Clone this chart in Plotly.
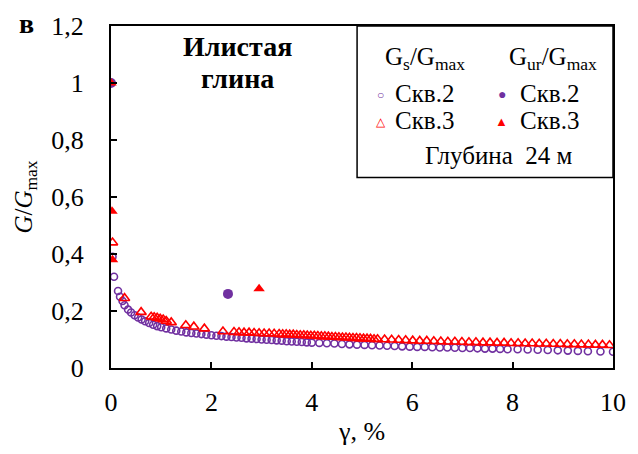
import plotly.graph_objects as go

# ---- data ----
s2_gs_x = [0, 0.03, 0.06, 0.14, 0.18, 0.23, 0.27, 0.34, 0.40, 0.47,
           0.54, 0.61, 0.68, 0.76, 0.84, 0.92, 1.0, 1.1, 1.2, 1.3,
           1.4, 1.5, 1.6, 1.7, 1.8, 1.9, 2.0, 2.1, 2.2, 2.3,
           2.4, 2.5, 2.6, 2.7, 2.8, 2.9, 3.0, 3.1, 3.2, 3.3,
           3.4, 3.5, 3.6, 3.7, 3.8, 3.9, 4.0, 4.15, 4.3, 4.45,
           4.6, 4.75, 4.9, 5.05, 5.2, 5.35, 5.5, 5.65, 5.8, 5.95,
           6.1, 6.25, 6.4, 6.55, 6.7, 6.85, 7.0, 7.15, 7.3, 7.45,
           7.6, 7.75, 7.9, 8.1, 8.3, 8.5, 8.7, 8.9, 9.1, 9.3,
           9.5, 9.75, 10.0]
s2_gs_y = [1.0, 0.39, 0.32, 0.27, 0.25, 0.235, 0.22, 0.205, 0.195, 0.185,
           0.177, 0.17, 0.164, 0.158, 0.152, 0.147, 0.143, 0.139, 0.135, 0.131,
           0.128, 0.125, 0.123, 0.121, 0.119, 0.117, 0.115, 0.113, 0.112, 0.11,
           0.109, 0.107, 0.106, 0.104, 0.103, 0.102, 0.1, 0.099, 0.098, 0.097,
           0.096, 0.094, 0.093, 0.092, 0.091, 0.09, 0.089, 0.088, 0.087, 0.086,
           0.084, 0.083, 0.082, 0.081, 0.08, 0.079, 0.078, 0.077, 0.076, 0.075,
           0.074, 0.074, 0.073, 0.072, 0.072, 0.071, 0.07, 0.07, 0.069, 0.068,
           0.068, 0.067, 0.066, 0.066, 0.065, 0.064, 0.063, 0.062, 0.061, 0.06,
           0.059, 0.058, 0.057]

s3_gs_x = [0.03, 0.27, 0.6, 0.8, 0.86, 0.92, 0.98, 1.04, 1.1, 1.2, 1.49, 1.65, 1.86, 2.23,
           2.45, 2.55, 2.65, 2.75, 2.85, 2.95, 3.05, 3.15, 3.25, 3.35,
           3.42, 3.49, 3.56, 3.63, 3.70, 3.77, 3.84, 3.91, 3.98, 4.05,
           4.12, 4.19, 4.26, 4.33, 4.40, 4.47, 4.54, 4.61, 4.68, 4.75,
           4.82, 4.89, 4.96, 5.03, 5.10, 5.17, 5.24, 5.31,
           5.45, 5.59, 5.73, 5.87, 6.01, 6.15, 6.29, 6.43, 6.57, 6.71,
           6.85, 6.99, 7.13, 7.27, 7.41, 7.55, 7.69, 7.83, 7.97, 8.11,
           8.25, 8.39, 8.53, 8.67, 8.81, 8.95, 9.09, 9.23, 9.37, 9.51,
           9.65, 9.79, 9.93]
s3_gs_y = [0.44, 0.245, 0.196, 0.18, 0.178, 0.176, 0.173, 0.17, 0.165, 0.16, 0.15, 0.145, 0.138, 0.128,
           0.126, 0.125, 0.124, 0.124, 0.123, 0.122, 0.121, 0.121, 0.12, 0.119,
           0.118, 0.118, 0.117, 0.117, 0.116, 0.115, 0.115, 0.114, 0.113, 0.113,
           0.112, 0.111, 0.111, 0.11, 0.109, 0.109, 0.108, 0.107, 0.107, 0.106,
           0.105, 0.105, 0.104, 0.103, 0.103, 0.102, 0.101, 0.101,
           0.1, 0.099, 0.098, 0.097, 0.096, 0.095, 0.095, 0.094, 0.093, 0.092,
           0.092, 0.091, 0.09, 0.09, 0.089, 0.089, 0.088, 0.088, 0.087, 0.087,
           0.086, 0.086, 0.085, 0.085, 0.084, 0.084, 0.083, 0.083, 0.082, 0.082,
           0.081, 0.081, 0.08]

s2_gur_x = [0, 2.33]
s2_gur_y = [1.0, 0.26]
s3_gur_x = [0, 0.02, 0.03, 2.95]
s3_gur_y = [1.0, 0.55, 0.38, 0.278]

y_tick_vals = [0, 0.2, 0.4, 0.6, 0.8, 1.0, 1.2]
y_tick_text = ["0", "0,2", "0,4", "0,6", "0,8", "1", "1,2"]
x_tick_vals = [0, 2, 4, 6, 8, 10]

PURPLE = "#7030A0"
RED = "#FF0000"
FONT = "Liberation Serif, Times New Roman, serif"

fig = go.Figure()
fig.add_trace(go.Scatter(x=s2_gs_x, y=s2_gs_y, mode="markers",
                         marker=dict(symbol="circle-open", size=7, color=PURPLE,
                                     line=dict(width=1.6, color=PURPLE))))
fig.add_trace(go.Scatter(x=s3_gs_x, y=s3_gs_y, mode="markers",
                         marker=dict(symbol="triangle-up-open", size=9, color=RED,
                                     line=dict(width=1.6, color=RED))))
fig.add_trace(go.Scatter(x=s2_gur_x, y=s2_gur_y, mode="markers",
                         marker=dict(symbol="circle", size=10, color=PURPLE)))
fig.add_trace(go.Scatter(x=s3_gur_x, y=s3_gur_y, mode="markers",
                         marker=dict(symbol="triangle-up", size=10, color=RED)))

axis_common = dict(showline=True, linecolor="black", linewidth=2, mirror=True,
                   ticks="inside", ticklen=6, tickwidth=2, tickcolor="black",
                   showgrid=False, zeroline=False,
                   tickfont=dict(family=FONT, size=26, color="black"))

fig.update_layout(
    width=638, height=454,
    margin=dict(l=111, r=17, t=25, b=86),
    plot_bgcolor="white", paper_bgcolor="white",
    showlegend=False,
    font=dict(family=FONT),
    xaxis=dict(range=[0, 10], tickvals=x_tick_vals, ticklabelstandoff=10, **axis_common,
               title=dict(text="γ, %", font=dict(family=FONT, size=26, color="black"),
                          standoff=6)),
    yaxis=dict(range=[0, 1.2], tickvals=y_tick_vals, ticktext=y_tick_text,
               ticklabelstandoff=20, **axis_common,
               title=dict(text="<i>G</i>/<i>G</i><sub>max</sub>",
                          font=dict(family=FONT, size=25, color="black"), standoff=12)),
)

def px2paper(px, py):
    return (px - 111) / 510, (368 - py) / 343

ann = []
def add_text(text, px, py, size=20, color="black", bold=False, xanchor="center"):
    x, y = px2paper(px, py)
    if bold:
        text = "<b>" + text + "</b>"
    ann.append(dict(text=text, x=x, y=y, xref="paper", yref="paper", showarrow=False,
                    xanchor=xanchor, yanchor="middle",
                    font=dict(family=FONT, size=size, color=color)))

add_text("в", 25, 22, size=28, bold=True)
add_text("Илистая", 240, 46, size=28, bold=True)
add_text("глина", 240, 78, size=28, bold=True)

# legend box
x0, y0 = px2paper(361, 177)
fig.add_shape(type="rect", xref="paper", yref="paper", x0=x0, y0=y0, x1=1.0, y1=1.0,
              line=dict(color="black", width=1.5), fillcolor="white", layer="above")

add_text("G<sub>s</sub>/G<sub>max</sub>", 430, 58, size=25)
add_text("G<sub>ur</sub>/G<sub>max</sub>", 560, 58, size=25)
add_text("○", 385, 94, size=12, color=PURPLE)
add_text("Скв.2", 397, 93, size=25, xanchor="left")
add_text("●", 508, 94, size=14, color=PURPLE)
add_text("Скв.2", 524, 93, size=25, xanchor="left")
add_text("△", 385, 121, size=12, color=RED)
add_text("Скв.3", 397, 120, size=25, xanchor="left")
add_text("▲", 508, 121, size=13, color=RED)
add_text("Скв.3", 524, 120, size=25, xanchor="left")
add_text("Глубина  24 м", 505, 155, size=25)

fig.update_layout(annotations=ann)
fig.write_html("out.html")
